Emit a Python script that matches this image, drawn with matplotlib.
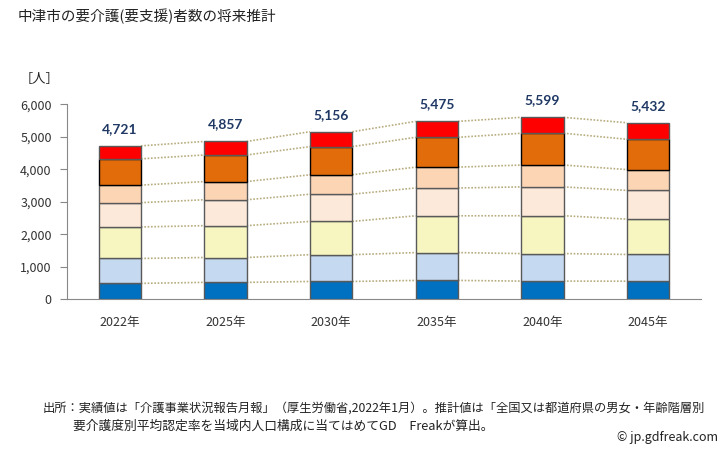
import numpy as np
import matplotlib
matplotlib.use("Agg")
import matplotlib.pyplot as plt

plt.rcParams['font.family'] = ['Noto Sans CJK JP', 'DejaVu Sans']

years = ['2022年', '2025年', '2030年', '2035年', '2040年', '2045年']
totals = [4721, 4857, 5156, 5475, 5599, 5432]

# 要支援1 -> 要介護5 (bottom to top)
shien1 = [490, 521, 549, 581, 560, 557]
shien2 = [767, 765, 824, 856, 847, 823]
kaigo1 = [969, 980, 1024, 1132, 1164, 1087]
kaigo2 = [748, 797, 837, 856, 887, 884]
kaigo3 = [539, 560, 598, 642, 673, 640]
kaigo4 = [809, 818, 866, 918, 979, 933]
kaigo5 = [399, 416, 458, 490, 489, 508]

series = [shien1, shien2, kaigo1, kaigo2, kaigo3, kaigo4, kaigo5]
colors = ['#0070C0', '#C5D9F1', '#F8F6C0', '#FDE9D9', '#FCD5B4', '#E26B0A', '#FF0000']
edges = ['#595959', '#595959', '#595959', '#595959', '#595959', '#000000', '#595959']

fig = plt.figure(figsize=(7.28, 4.5), dpi=100)
ax = fig.add_axes([67 / 728, 1 - 299.3 / 450, (701 - 67) / 728, (299.3 - 104.3) / 450])

x = np.arange(len(years))
w = 0.4
data = np.array(series)
cum = np.cumsum(data, axis=0)
bottoms = np.vstack([np.zeros(len(years)), cum[:-1]])

for k in range(len(series)):
    ax.bar(x, data[k], w, bottom=bottoms[k], color=colors[k],
           edgecolor=edges[k], linewidth=1.0, zorder=3)

# dotted connectors between bars
for k in range(len(series)):
    for i in range(len(years) - 1):
        ax.plot([x[i] + w / 2, x[i + 1] - w / 2], [cum[k, i], cum[k, i + 1]],
                color='#B8AD80', linestyle=(0, (1, 1)), linewidth=1.2, zorder=2)

for i, t in enumerate(totals):
    ax.annotate(f'{t:,}', (x[i], t), xytext=(0, 8), textcoords='offset points',
                ha='center', va='bottom', fontsize=10, fontweight='bold',
                color='#1F3864', family=['Lato', 'DejaVu Sans'])

ax.set_xlim(-0.5, len(years) - 0.5)
ax.set_ylim(0, 6000)
ax.set_yticks(range(0, 6001, 1000))
ax.set_yticklabels([f'{v:,}' for v in range(0, 6001, 1000)])
ax.set_xticks(x)
ax.set_xticklabels(years)
ax.tick_params(axis='y', length=5, color='#888888', labelsize=9, labelcolor='#333333', pad=6)
ax.tick_params(axis='x', length=0, labelsize=9, labelcolor='#333333', pad=12)
for s in ['top', 'right']:
    ax.spines[s].set_visible(False)
for s in ['left', 'bottom']:
    ax.spines[s].set_color('#888888')

fig.text(18 / 728, 1 - 16 / 450, '中津市の要介護(要支援)者数の将来推計', fontsize=10.5,
         va='center', ha='left', color='#222222')
fig.text(20 / 728, 1 - 80 / 450, '［人］', fontsize=9.5, va='center', ha='left', color='#222222')
fig.text(43 / 728, 1 - 408 / 450,
         '出所：実績値は「介護事業状況報告月報」（厚生労働省,2022年1月）。推計値は「全国又は都道府県の男女・年齢階層別',
         fontsize=8.8, va='center', ha='left', color='#222222')
fig.text(73 / 728, 1 - 426 / 450,
         '要介護度別平均認定率を当域内人口構成に当てはめてGD　Freakが算出。',
         fontsize=9.2, va='center', ha='left', color='#222222')
fig.text(718 / 728, 1 - 437 / 450, '© jp.gdfreak.com', fontsize=9,
         va='center', ha='right', color='#222222')

fig.savefig('out.png', dpi=100)
